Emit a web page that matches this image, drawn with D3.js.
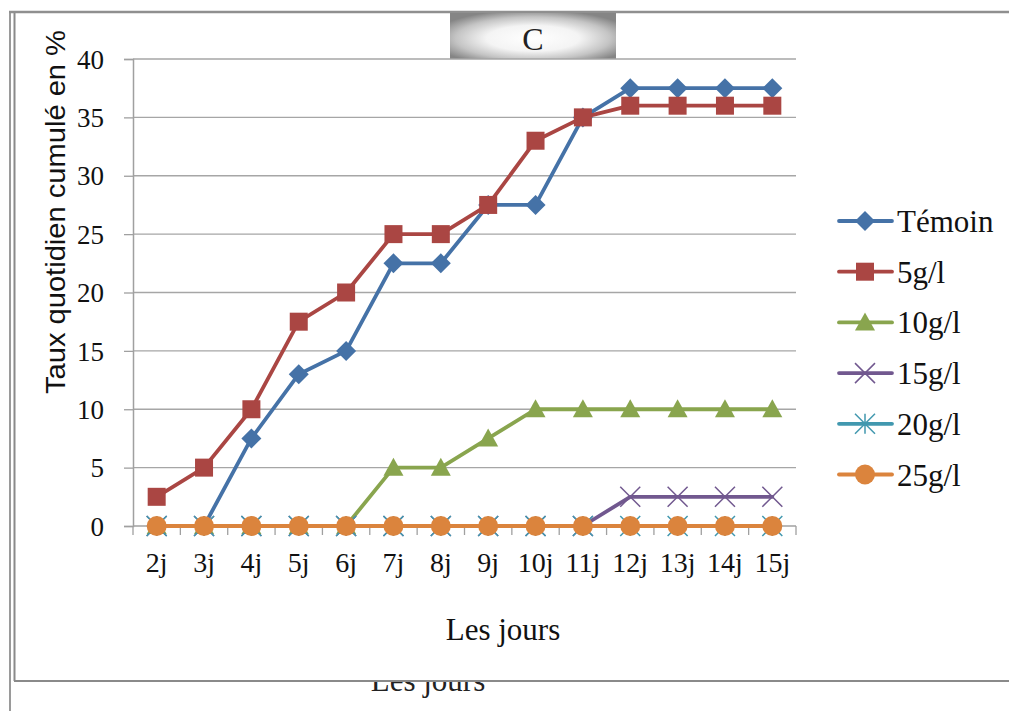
<!DOCTYPE html>
<html>
<head>
<meta charset="utf-8">
<script src="https://cdn.jsdelivr.net/npm/d3@7/dist/d3.min.js"></script>
<style>
  html, body { margin: 0; padding: 0; background: #fff; }
  svg { display: block; }
</style>
</head>
<body>
<svg id="chart" width="1009" height="711"></svg>
<script>
// Days of observation
const days = ["2j","3j","4j","5j","6j","7j","8j","9j","10j","11j","12j","13j","14j","15j"];

// Cumulative daily rate (%) per treatment
const temoin = [0, 0, 7.5, 13, 15, 22.5, 22.5, 27.5, 27.5, 35, 37.5, 37.5, 37.5, 37.5];
const g5     = [2.5, 5, 10, 17.5, 20, 25, 25, 27.5, 33, 35, 36, 36, 36, 36];
const g10    = [0, 0, 0, 0, 0, 5, 5, 7.5, 10, 10, 10, 10, 10, 10];
const g15    = [0, 0, 0, 0, 0, 0, 0, 0, 0, 0, 2.5, 2.5, 2.5, 2.5];
const g20    = [0, 0, 0, 0, 0, 0, 0, 0, 0, 0, 0, 0, 0, 0];
const g25    = [0, 0, 0, 0, 0, 0, 0, 0, 0, 0, 0, 0, 0, 0];

const seriesNames = ["Témoin", "5g/l", "10g/l", "15g/l", "20g/l", "25g/l"];
const yTicks = [0, 5, 10, 15, 20, 25, 30, 35, 40];

const series = [
  { name: seriesNames[0], values: temoin, color: "#4572A7", marker: "diamond" },
  { name: seriesNames[1], values: g5,     color: "#AA4643", marker: "square" },
  { name: seriesNames[2], values: g10,    color: "#89A54E", marker: "triangle" },
  { name: seriesNames[3], values: g15,    color: "#71588F", marker: "x" },
  { name: seriesNames[4], values: g20,    color: "#4198AF", marker: "star" },
  { name: seriesNames[5], values: g25,    color: "#DB843D", marker: "circle" }
];

const svg = d3.select("#chart");
const serif = "'Liberation Serif', 'Times New Roman', serif";
const sans = "'Liberation Sans', Arial, sans-serif";
const defs = svg.append("defs");

// Frame of the embedded chart object
const frame = svg.append("g");
frame.append("line").attr("x1", 10).attr("x2", 10).attr("y1", 12).attr("y2", 711)
  .attr("stroke", "#9a9a9a").attr("stroke-width", 2);
frame.append("line").attr("x1", 14.5).attr("x2", 14.5).attr("y1", 12).attr("y2", 681)
  .attr("stroke", "#8a8a8a").attr("stroke-width", 2);
frame.append("line").attr("x1", 9).attr("x2", 1009).attr("y1", 12).attr("y2", 12)
  .attr("stroke", "#8f8f8f").attr("stroke-width", 2.5);
frame.append("line").attr("x1", 14).attr("x2", 1009).attr("y1", 681).attr("y2", 681)
  .attr("stroke", "#8a8a8a").attr("stroke-width", 2);

// Axis title of the sheet below, cut by the frame edge
defs.append("clipPath").attr("id", "under").append("rect")
  .attr("x", 16).attr("y", 682).attr("width", 993).attr("height", 29);
svg.append("g").attr("clip-path", "url(#under)")
  .append("text")
  .attr("x", 428).attr("y", 691)
  .attr("text-anchor", "middle").attr("font-family", serif).attr("font-size", 31)
  .attr("fill", "#222")
  .text("Les jours");

// Header tab "C" with shaded background
const grad = defs.append("radialGradient").attr("id", "tabGrad")
  .attr("cx", "50%").attr("cy", "55%").attr("r", "62%");
grad.append("stop").attr("offset", "0%").attr("stop-color", "#ffffff");
grad.append("stop").attr("offset", "45%").attr("stop-color", "#f4f4f4");
grad.append("stop").attr("offset", "75%").attr("stop-color", "#c4c4c4");
grad.append("stop").attr("offset", "100%").attr("stop-color", "#858585");
svg.append("rect").attr("x", 450).attr("y", 13).attr("width", 166).attr("height", 46)
  .attr("fill", "url(#tabGrad)");
svg.append("text").attr("x", 533).attr("y", 50).attr("text-anchor", "middle")
  .attr("font-family", serif).attr("font-size", 32).attr("fill", "#222").text("C");

// Plot area
const plotL = 133, plotR = 796, plotT = 59, plotB = 526;
const x = d3.scaleBand().domain(days).range([plotL, plotR]);
const y = d3.scaleLinear().domain([0, 40]).range([plotB, plotT]);

// Horizontal gridlines
svg.append("g").selectAll("line").data(yTicks.filter(d => d > 0)).join("line")
  .attr("x1", plotL).attr("x2", plotR)
  .attr("y1", d => y(d)).attr("y2", d => y(d))
  .attr("stroke", "#a6a6a6").attr("stroke-width", 1.3);

// Y axis
const yAxis = svg.append("g").attr("transform", `translate(${plotL},0)`)
  .call(d3.axisLeft(y).tickValues(yTicks).tickSize(9).tickPadding(20));
yAxis.select(".domain").attr("stroke", "#a0a0a0").attr("stroke-width", 1.5);
yAxis.selectAll(".tick line").attr("stroke", "#a0a0a0").attr("stroke-width", 1.3);
yAxis.selectAll(".tick text").attr("font-family", serif).attr("font-size", 27).attr("fill", "#111")
  .attr("dy", "0.34em");

// X axis with tick marks at category boundaries
const xAxis = svg.append("g").attr("transform", `translate(0,${plotB})`)
  .call(d3.axisBottom(x).tickSize(0).tickPadding(26));
xAxis.select(".domain").remove();
xAxis.selectAll(".tick text").attr("font-family", serif).attr("font-size", 28).attr("fill", "#111");
svg.append("line").attr("x1", plotL).attr("x2", plotR).attr("y1", plotB).attr("y2", plotB)
  .attr("stroke", "#a0a0a0").attr("stroke-width", 1.5);
const bounds = days.map(d => x(d)).concat([plotR]);
svg.append("g").selectAll("line").data(bounds).join("line")
  .attr("x1", d => d).attr("x2", d => d).attr("y1", plotB).attr("y2", plotB + 9)
  .attr("stroke", "#a0a0a0").attr("stroke-width", 1.3);

// Axis titles
svg.append("text").attr("x", 503).attr("y", 640).attr("text-anchor", "middle")
  .attr("font-family", serif).attr("font-size", 31).attr("fill", "#111").text("Les jours");
svg.append("text").attr("transform", "translate(65,212) rotate(-90)")
  .attr("text-anchor", "middle").attr("font-family", sans).attr("font-size", 28)
  .attr("textLength", 364).attr("lengthAdjust", "spacingAndGlyphs")
  .attr("fill", "#111").text("Taux quotidien cumulé en %");

// Marker drawing
function drawMarker(g, type, color, s) {
  if (type === "diamond") {
    g.append("path").attr("d", `M0,${-s}L${s},0L0,${s}L${-s},0Z`).attr("fill", color);
  } else if (type === "square") {
    g.append("rect").attr("x", -s * 0.9).attr("y", -s * 0.9).attr("width", s * 1.8).attr("height", s * 1.8).attr("fill", color);
  } else if (type === "triangle") {
    g.append("path").attr("d", `M0,${-s}L${s},${s * 0.8}L${-s},${s * 0.8}Z`).attr("fill", color);
  } else if (type === "x") {
    g.append("path").attr("d", `M${-s},${-s}L${s},${s}M${-s},${s}L${s},${-s}`)
      .attr("stroke", color).attr("stroke-width", 1.5).attr("fill", "none");
  } else if (type === "star") {
    g.append("path").attr("d", `M${-s},${-s}L${s},${s}M${-s},${s}L${s},${-s}M0,${-s}L0,${s}`)
      .attr("stroke", color).attr("stroke-width", 1.5).attr("fill", "none");
  } else if (type === "circle") {
    g.append("circle").attr("r", s).attr("fill", color);
  }
}

const line = d3.line().x((d, i) => x(days[i]) + x.bandwidth() / 2).y(d => y(d));

series.forEach(s => {
  const g = svg.append("g");
  g.append("path").datum(s.values).attr("d", line)
    .attr("fill", "none").attr("stroke", s.color).attr("stroke-width", 3.8)
    .attr("stroke-linejoin", "round").attr("stroke-linecap", "round");
  s.values.forEach((v, i) => {
    const m = g.append("g").attr("transform", `translate(${x(days[i]) + x.bandwidth() / 2},${y(v)})`);
    drawMarker(m, s.marker, s.color, 10);
  });
});

// Legend
const legend = svg.append("g");
series.forEach((s, i) => {
  const ly = 221 + i * 50.7;
  const g = legend.append("g").attr("transform", `translate(0,${ly})`);
  g.append("line").attr("x1", 839).attr("x2", 892).attr("y1", 0).attr("y2", 0)
    .attr("stroke", s.color).attr("stroke-width", 3.8).attr("stroke-linecap", "round");
  const m = g.append("g").attr("transform", "translate(865,0)");
  drawMarker(m, s.marker, s.color, 10);
  g.append("text").attr("x", 897).attr("y", 11).attr("font-family", serif).attr("font-size", 31)
    .attr("fill", "#111").text(s.name);
});
</script>
</body>
</html>
